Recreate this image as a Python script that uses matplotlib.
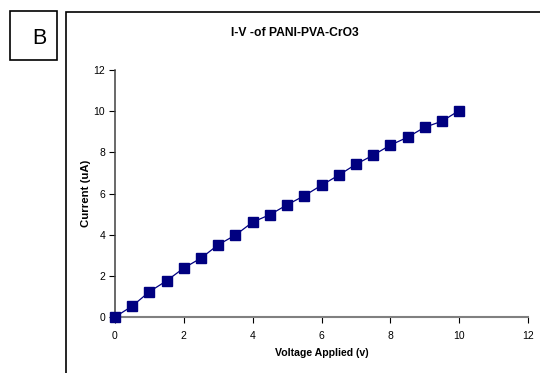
import matplotlib
matplotlib.use("Agg")
import matplotlib.pyplot as plt
from matplotlib.patches import Rectangle

voltage = [0, 0.5, 1, 1.5, 2, 2.5, 3, 3.5, 4, 4.5, 5, 5.5, 6, 6.5, 7, 7.5, 8, 8.5, 9, 9.5, 10]
current = [0, 0.53, 1.23, 1.76, 2.38, 2.86, 3.51, 3.98, 4.61, 4.97, 5.45, 5.89, 6.40, 6.89, 7.42, 7.86, 8.35, 8.73, 9.22, 9.51, 10.03]
ticks = [0, 2, 4, 6, 8, 10, 12]

plt.rcParams['font.family'] = ['Liberation Sans', 'DejaVu Sans']

W, H = 540, 373
fig = plt.figure(figsize=(W/100, H/100), dpi=100)

# outer frame
fig.patches.append(Rectangle((66/W, -0.1), 1.2, (H-12)/H + 0.1, transform=fig.transFigure,
                             fill=False, edgecolor='black', linewidth=1.2))
# B box
fig.patches.append(Rectangle((10/W, 1-60/H), 47/W, 49/H, transform=fig.transFigure,
                             fill=False, edgecolor='black', linewidth=1.2))
fig.text(39/W, 1-38/H, 'B', fontsize=15.5, ha='center', va='center')

ax = fig.add_axes([115/W, 1-317/H, (528-115)/W, (317-70)/H])
ax.plot(voltage, current, color='#000080', linewidth=0.9, marker='s', markersize=7.3,
        markerfacecolor='#000080', markeredgecolor='#000080', clip_on=False, zorder=3)
ax.set_xlim(0, 12)
ax.set_ylim(0, 12)
ax.set_xticks(ticks)
ax.set_yticks(ticks)
for s in ['top', 'right']:
    ax.spines[s].set_visible(False)
ax.spines['left'].set_color('#404040')
ax.spines['bottom'].set_color('#808080')
ax.spines['left'].set_linewidth(1.1)
ax.spines['bottom'].set_linewidth(1.5)
ax.tick_params(direction='out', length=4, width=0.8, color='black', labelsize=7.5)
ax.tick_params(axis='x', pad=6)
ax.tick_params(axis='y', pad=3)
ax.set_xlabel('Voltage Applied (v)', fontsize=7.6, fontweight='bold')
ax.xaxis.set_label_coords(322/W, 1-348/H, transform=fig.transFigure)
ax.set_ylabel('Current (uA)', fontsize=8.2, fontweight='bold')
ax.yaxis.set_label_coords(91/W, 1-193/H, transform=fig.transFigure)
fig.text(295/W, 1-33/H, 'I-V -of PANI-PVA-CrO3', fontsize=8.7, fontweight='bold',
         ha='center', va='center')

fig.savefig('out.png', dpi=100)
